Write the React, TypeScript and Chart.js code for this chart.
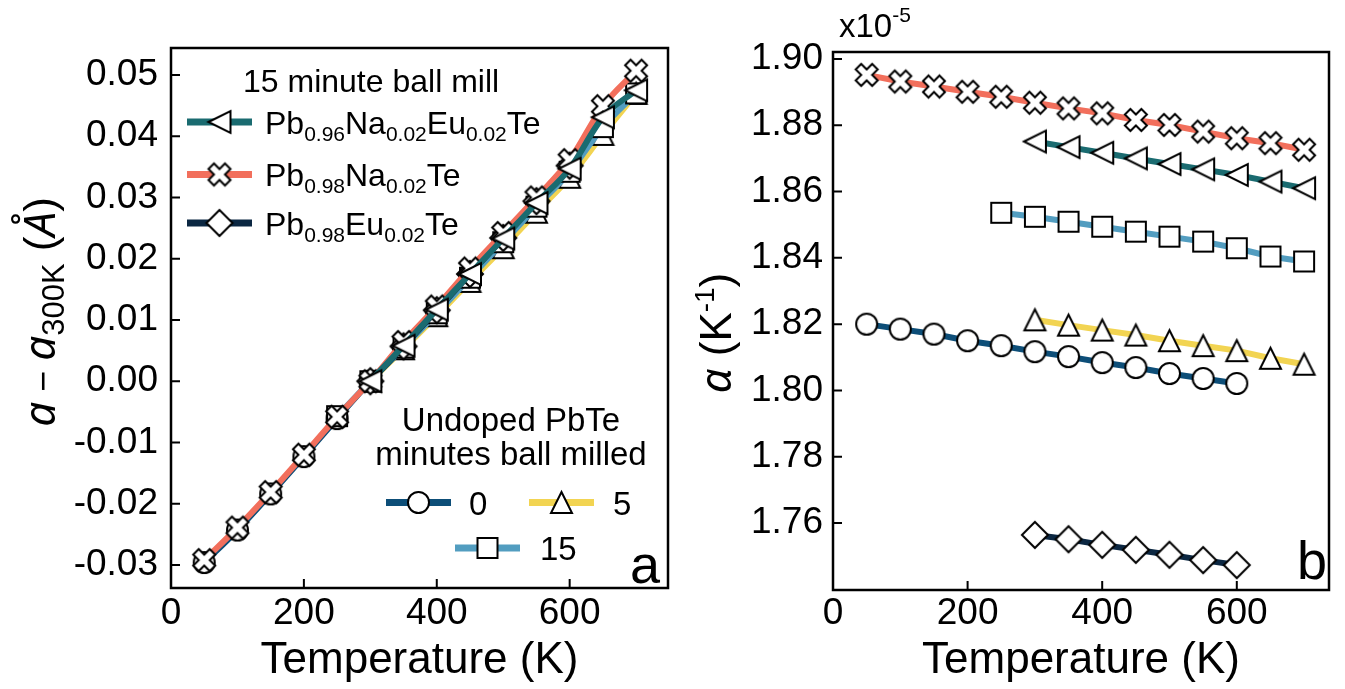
import React, { useEffect, useRef } from "react";
import { Chart, registerables } from "chart.js";
Chart.register(...registerables);

// ---------------- data ----------------
const tempNa = [50, 100, 150, 200, 250, 300, 350, 400, 450, 500, 550, 600, 650, 700];
const tempNaEu = [300, 350, 400, 450, 500, 550, 600, 650, 700];
const tempEu = [300, 350, 400, 450, 500, 550, 600];
const temp0 = [50, 100, 150, 200, 250, 300, 350, 400, 450, 500, 550, 600];
const temp5 = [300, 350, 400, 450, 500, 550, 600, 650, 700];
const temp15 = [250, 300, 350, 400, 450, 500, 550, 600, 650, 700];

// panel a: a - a(300K) in Angstrom
const dNa = [-0.0292, -0.0239, -0.0181, -0.012, -0.0058, 0.0, 0.0064, 0.0122, 0.0184, 0.0242, 0.03, 0.0361, 0.0449, 0.0507];
const dNaEu = [0.0, 0.0058, 0.0117, 0.0175, 0.0233, 0.0291, 0.0347, 0.0431, 0.0475];
const dEu = [0.0, 0.0057, 0.0116, 0.0175, 0.0234, 0.0294, 0.0352];
const d0 = [-0.0296, -0.0243, -0.0184, -0.0123, -0.0061, 0.0, 0.0056, 0.0113, 0.0171, 0.0229, 0.0287, 0.0345];
const d5 = [0.0, 0.0053, 0.0107, 0.0163, 0.0218, 0.0276, 0.0333, 0.0403, 0.047];
const d15 = [-0.0057, 0.0, 0.0055, 0.0111, 0.0169, 0.0227, 0.0285, 0.0342, 0.0415, 0.047];

// panel b: alpha (x1e-5 K^-1)
const alphaNa = [1.8952, 1.8932, 1.8917, 1.8901, 1.8886, 1.8868, 1.8851, 1.8836, 1.8816, 1.8801, 1.8781, 1.8761, 1.8746, 1.8726];
const alphaNaEu = [1.8751, 1.8734, 1.8717, 1.87, 1.8683, 1.8667, 1.865, 1.863, 1.861];
const alpha15 = [1.8536, 1.8524, 1.8509, 1.8494, 1.8479, 1.8464, 1.8449, 1.8429, 1.8404, 1.8389];
const alpha0 = [1.82, 1.8185, 1.817, 1.815, 1.8135, 1.8117, 1.8102, 1.8084, 1.8069, 1.8051, 1.8036, 1.8021];
const alpha5 = [1.8213, 1.8197, 1.8182, 1.8167, 1.815, 1.8135, 1.812, 1.8097, 1.8079];
const alphaEu = [1.7564, 1.7551, 1.7534, 1.7519, 1.7504, 1.7488, 1.7473];

// ticks
const xTicks = [0, 200, 400, 600];
const leftYTicks = [-0.03, -0.02, -0.01, 0.0, 0.01, 0.02, 0.03, 0.04, 0.05];
const rightYTicks = [1.76, 1.78, 1.8, 1.82, 1.84, 1.86, 1.88, 1.9];

// labels
const topLegendTitle = "15 minute ball mill";
const bottomLegendTitle = ["Undoped PbTe", "minutes ball milled"];
const xTitle = "Temperature (K)";

// ---------------- styles ----------------
const FONT = "'Liberation Sans', Arial, Helvetica, sans-serif";
const IFONT = "'Noto Sans', 'Open Sans', sans-serif";
const C_NAEU = "#1a6b70";
const C_NA = "#f26f5c";
const C_EU = "#0b2742";
const C_0 = "#0d4e78";
const C_5 = "#f2d452";
const C_15 = "#529dc0";

type MK = "circle" | "square" | "triUp" | "triLeft" | "diamond" | "xfill";
function makeMarker(kind: MK, outer: number): HTMLCanvasElement {
  const lw = 2;
  const size = Math.ceil(outer) + 8;
  const c = document.createElement("canvas");
  c.width = size;
  c.height = size;
  const g = c.getContext("2d")!;
  g.translate(size / 2, size / 2);
  const h = (outer - lw) / 2;
  g.beginPath();
  if (kind === "circle") g.arc(0, 0, h, 0, Math.PI * 2);
  else if (kind === "square") g.rect(-h, -h, 2 * h, 2 * h);
  else if (kind === "triUp") {
    g.moveTo(0, -h); g.lineTo(h, h); g.lineTo(-h, h); g.closePath();
  } else if (kind === "triLeft") {
    g.moveTo(-h, 0); g.lineTo(h, -h); g.lineTo(h, h); g.closePath();
  } else if (kind === "diamond") {
    g.moveTo(0, -h); g.lineTo(h, 0); g.lineTo(0, h); g.lineTo(-h, 0); g.closePath();
  } else {
    const u = h / 2.83;
    const pts = [[-1, -3], [1, -3], [1, -1], [3, -1], [3, 1], [1, 1], [1, 3], [-1, 3], [-1, 1], [-3, 1], [-3, -1], [-1, -1]];
    const r = Math.SQRT1_2;
    pts.forEach(([px, py], i) => {
      const x = (px - py) * r * u;
      const y = (px + py) * r * u;
      if (i) g.lineTo(x, y); else g.moveTo(x, y);
    });
    g.closePath();
  }
  g.fillStyle = "#ffffff";
  g.fill();
  g.lineWidth = lw;
  g.lineJoin = "miter";
  g.strokeStyle = "#000000";
  g.stroke();
  return c;
}

type Seg = { t: string; size: number; dy?: number; italic?: boolean; fam?: string };
function fontStr(s: Seg) {
  return `${s.italic ? "italic " : ""}${s.size}px ${s.fam || FONT}`;
}
function drawRich(ctx: CanvasRenderingContext2D, segs: Seg[], x: number, y: number, align: "left" | "center" | "right") {
  ctx.textAlign = "left";
  ctx.textBaseline = "alphabetic";
  const widths = segs.map((s) => { ctx.font = fontStr(s); return ctx.measureText(s.t).width; });
  const total = widths.reduce((a, b) => a + b, 0);
  let cx = align === "left" ? x : align === "center" ? x - total / 2 : x - total;
  segs.forEach((s, i) => {
    ctx.font = fontStr(s);
    ctx.fillText(s.t, cx, y + (s.dy || 0));
    cx += widths[i];
  });
}

function framePlugin() {
  return {
    id: "frameTicks",
    afterDraw(chart: any) {
      const { ctx, chartArea: a } = chart;
      const xs = chart.scales.x;
      const ys = chart.scales.y;
      ctx.save();
      ctx.strokeStyle = "#000";
      ctx.lineWidth = 2;
      ctx.beginPath();
      xs.ticks.forEach((t: any) => {
        const px = xs.getPixelForValue(t.value);
        ctx.moveTo(px, a.bottom);
        ctx.lineTo(px, a.bottom - 9);
      });
      ys.ticks.forEach((t: any) => {
        const py = ys.getPixelForValue(t.value);
        ctx.moveTo(a.left, py);
        ctx.lineTo(a.left + 9, py);
      });
      ctx.stroke();
      ctx.lineWidth = 2.5;
      ctx.strokeRect(a.left, a.top, a.right - a.left, a.bottom - a.top);
      ctx.restore();
    },
  };
}

function mkDs(xs: number[], ys: number[], color: string, marker: HTMLCanvasElement, smooth: boolean) {
  return {
    data: xs.map((x, i) => ({ x, y: ys[i] })),
    borderColor: color,
    backgroundColor: color,
    borderWidth: 6,
    pointStyle: marker,
    pointRadius: 12,
    pointHoverRadius: 12,
    pointBorderWidth: 0,
    cubicInterpolationMode: smooth ? "monotone" : "default",
    tension: 0,
    clip: false as any,
  };
}

function baseScales(opts: {
  xmax: number; ymin: number; ymax: number; yTicks: number[]; yWidth: number; xHeight: number; yPad: number; xPad: number; titlePad: number;
}) {
  return {
    x: {
      type: "linear",
      min: 0,
      max: opts.xmax,
      grid: { display: false, drawTicks: false },
      border: { display: false },
      afterBuildTicks: (s: any) => { s.ticks = xTicks.map((v) => ({ value: v })); },
      afterFit: (s: any) => { s.height = opts.xHeight; },
      ticks: { font: { family: FONT, size: 37 }, color: "#000", padding: opts.xPad, maxRotation: 0, autoSkip: false, callback: (v: any) => String(v) },
      title: { display: true, text: xTitle, font: { family: FONT, size: 44 }, color: "#000", padding: { top: 0, bottom: opts.titlePad } },
    },
    y: {
      type: "linear",
      min: opts.ymin,
      max: opts.ymax,
      grid: { display: false, drawTicks: false },
      border: { display: false },
      afterBuildTicks: (s: any) => { s.ticks = opts.yTicks.map((v) => ({ value: v })); },
      afterFit: (s: any) => { s.width = opts.yWidth; },
      ticks: { font: { family: FONT, size: 37 }, color: "#000", padding: opts.yPad, autoSkip: false, callback: (v: any) => Math.abs(Number(v)) < 1e-9 ? "0.00" : Number(v).toFixed(2) },
    },
  };
}

function App() {
  const leftRef = useRef<HTMLCanvasElement>(null);
  const rightRef = useRef<HTMLCanvasElement>(null);

  useEffect(() => {
    const mCircle = makeMarker("circle", 23);
    const mSquare = makeMarker("square", 22);
    const mTri = makeMarker("triUp", 23);
    const mTriL = makeMarker("triLeft", 24);
    const mDia = makeMarker("diamond", 28);
    const mX = makeMarker("xfill", 24);

    const drawImg = (ctx: CanvasRenderingContext2D, img: HTMLCanvasElement, x: number, y: number) => {
      ctx.drawImage(img, x - img.width / 2, y - img.height / 2);
    };
    const legendLine = (ctx: CanvasRenderingContext2D, x1: number, x2: number, y: number, color: string, img: HTMLCanvasElement) => {
      ctx.save();
      ctx.strokeStyle = color;
      ctx.lineWidth = 7;
      ctx.lineCap = "butt";
      ctx.beginPath();
      ctx.moveTo(x1, y);
      ctx.lineTo(x2, y);
      ctx.stroke();
      drawImg(ctx, img, (x1 + x2) / 2, y);
      ctx.restore();
    };

    const leftDecor = {
      id: "leftDecor",
      afterDraw(chart: any) {
        const ctx: CanvasRenderingContext2D = chart.ctx;
        ctx.save();
        ctx.fillStyle = "#000";
        // top legend
        drawRich(ctx, [{ t: topLegendTitle, size: 32 }], 243, 92, "left");
        const rows: [number, string, HTMLCanvasElement, Seg[]][] = [
          [122, C_NAEU, mTriL, [{ t: "Pb", size: 32 }, { t: "0.96", size: 21, dy: 7 }, { t: "Na", size: 32 }, { t: "0.02", size: 21, dy: 7 }, { t: "Eu", size: 32 }, { t: "0.02", size: 21, dy: 7 }, { t: "Te", size: 32 }]],
          [174.5, C_NA, mX, [{ t: "Pb", size: 32 }, { t: "0.98", size: 21, dy: 7 }, { t: "Na", size: 32 }, { t: "0.02", size: 21, dy: 7 }, { t: "Te", size: 32 }]],
          [223, C_EU, mDia, [{ t: "Pb", size: 32 }, { t: "0.98", size: 21, dy: 7 }, { t: "Eu", size: 32 }, { t: "0.02", size: 21, dy: 7 }, { t: "Te", size: 32 }]],
        ];
        rows.forEach(([y, col, img, segs]) => {
          legendLine(ctx, 187, 252, y, col, img);
          ctx.fillStyle = "#000";
          drawRich(ctx, segs, 265, y + 11.5, "left");
        });
        // bottom legend
        drawRich(ctx, [{ t: bottomLegendTitle[0], size: 33 }], 511, 431, "center");
        drawRich(ctx, [{ t: bottomLegendTitle[1], size: 33 }], 511, 465, "center");
        legendLine(ctx, 386, 451, 502.5, C_0, mCircle);
        ctx.fillStyle = "#000";
        drawRich(ctx, [{ t: "0", size: 33 }], 469, 514.5, "left");
        legendLine(ctx, 529, 594, 502.5, C_5, mTri);
        ctx.fillStyle = "#000";
        drawRich(ctx, [{ t: "5", size: 33 }], 613, 514.5, "left");
        legendLine(ctx, 455, 520, 548, C_15, mSquare);
        ctx.fillStyle = "#000";
        drawRich(ctx, [{ t: "15", size: 33 }], 540, 560, "left");
        // panel label
        drawRich(ctx, [{ t: "a", size: 54 }], 660, 583, "right");
        // y title
        ctx.translate(55, 312);
        ctx.rotate(-Math.PI / 2);
        drawRich(ctx, [
          { t: "a", size: 44, italic: true, fam: IFONT },
          { t: " \u2212 ", size: 36 },
          { t: "a", size: 44, italic: true, fam: IFONT },
          { t: "300K", size: 31, dy: 9 },
          { t: " (", size: 44 },
          { t: "\u00C5", size: 44, italic: true, fam: IFONT },
          { t: ")", size: 44 },
        ], 0, 0, "center");
        ctx.restore();
      },
    };

    const OFF = 680;
    const rightDecor = {
      id: "rightDecor",
      afterDraw(chart: any) {
        const ctx: CanvasRenderingContext2D = chart.ctx;
        ctx.save();
        ctx.fillStyle = "#000";
        drawRich(ctx, [{ t: "x10", size: 33 }, { t: "-5", size: 21, dy: -15 }], 839 - OFF, 37, "left");
        drawRich(ctx, [{ t: "b", size: 54 }], 1327 - OFF, 579, "right");
        ctx.translate(731 - OFF, 333);
        ctx.rotate(-Math.PI / 2);
        drawRich(ctx, [
          { t: "\u03B1", size: 44, italic: true, fam: IFONT },
          { t: " (K", size: 44 },
          { t: "-1", size: 28, dy: -17 },
          { t: ")", size: 44 },
        ], 0, 0, "center");
        ctx.restore();
      },
    };

    const left = new Chart(leftRef.current!, {
      type: "line",
      data: {
        datasets: [
          mkDs(tempNaEu, dNaEu, C_NAEU, mTriL, true),
          mkDs(tempNa, dNa, C_NA, mX, true),
          mkDs(tempEu, dEu, C_EU, mDia, true),
          mkDs(temp15, d15, C_15, mSquare, true),
          mkDs(temp5, d5, C_5, mTri, true),
          mkDs(temp0, d0, C_0, mCircle, true),
        ] as any,
      },
      options: {
        responsive: false,
        animation: false,
        events: [],
        layout: { padding: { left: 0, right: 8, top: 48, bottom: 0 } },
        plugins: { legend: { display: false }, tooltip: { enabled: false } },
        scales: baseScales({ xmax: 748, ymin: -0.03376, ymax: 0.05441, yTicks: leftYTicks, yWidth: 171, xHeight: 101, yPad: 13, xPad: 4, titlePad: 2 }) as any,
      },
      plugins: [framePlugin(), leftDecor],
    });

    const right = new Chart(rightRef.current!, {
      type: "line",
      data: {
        datasets: [
          mkDs(tempNa, alphaNa, C_NA, mX, false),
          mkDs(tempNaEu, alphaNaEu, C_NAEU, mTriL, false),
          mkDs(temp15, alpha15, C_15, mSquare, false),
          mkDs(temp5, alpha5, C_5, mTri, false),
          mkDs(temp0, alpha0, C_0, mCircle, false),
          mkDs(tempEu, alphaEu, C_EU, mDia, false),
        ] as any,
      },
      options: {
        responsive: false,
        animation: false,
        events: [],
        layout: { padding: { left: 0, right: 16, top: 52, bottom: 0 } },
        plugins: { legend: { display: false }, tooltip: { enabled: false } },
        scales: baseScales({ xmax: 737, ymin: 1.73978, ymax: 1.90211, yTicks: rightYTicks, yWidth: 153, xHeight: 99, yPad: 10, xPad: 2, titlePad: 2 }) as any,
      },
      plugins: [framePlugin(), rightDecor],
    });

    return () => {
      left.destroy();
      right.destroy();
    };
  }, []);

  return (
    <div style={{ position: "absolute", left: 0, top: 0, width: 1345, height: 689, background: "#fff" }}>
      <canvas ref={leftRef} width={680} height={689} style={{ position: "absolute", left: 0, top: 0 }} />
      <canvas ref={rightRef} width={665} height={689} style={{ position: "absolute", left: 680, top: 0 }} />
    </div>
  );
}

export default App;
